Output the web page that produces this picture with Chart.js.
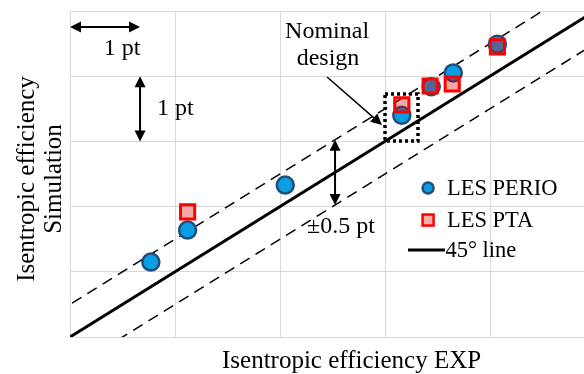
<!DOCTYPE html>
<html>
<head>
<meta charset="utf-8">
<script src="https://cdn.jsdelivr.net/npm/chart.js@4"></script>
<style>
  body { margin: 0; background: #fff; }
  #wrap { width: 584px; height: 374px; }
</style>
</head>
<body>
<div id="wrap"><canvas id="chart" width="584" height="374"></canvas></div>
<script>
// ---------------- DATA ----------------
const perioX = [0.77, 1.12, 2.05, 3.16, 3.44, 3.65, 4.07];
const perioY = [1.15, 1.64, 2.33, 3.40, 3.84, 4.05, 4.49];

const ptaX = [1.12, 3.16, 3.43, 3.64, 4.07];
const ptaY = [1.92, 3.56, 3.85, 3.88, 4.45];

// 45 degree line and the +-0.5 pt band
const lineX = [-1, 6];
const bandOffset = 0.5;

const xMax = 4.895;
const yMax = 5;

const FONT = '"Liberation Serif", "Times New Roman", serif';

function pts(xs, ys) {
    return xs.map((x, i) => ({ x, y: ys[i] }));
}

// ---------------- ANNOTATIONS ----------------
function arrowHead(ctx, x1, y1, x2, y2, len, half) {
    const a = Math.atan2(y2 - y1, x2 - x1);
    ctx.beginPath();
    ctx.moveTo(x2, y2);
    ctx.lineTo(x2 - len * Math.cos(a) + half * Math.sin(a), y2 - len * Math.sin(a) - half * Math.cos(a));
    ctx.lineTo(x2 - len * Math.cos(a) - half * Math.sin(a), y2 - len * Math.sin(a) + half * Math.cos(a));
    ctx.closePath();
    ctx.fill();
}

function arrow(ctx, x1, y1, x2, y2, both, lw) {
    const a = Math.atan2(y2 - y1, x2 - x1);
    const len = 11;
    ctx.lineWidth = lw;
    ctx.beginPath();
    ctx.moveTo(both ? x1 + len * 0.8 * Math.cos(a) : x1, both ? y1 + len * 0.8 * Math.sin(a) : y1);
    ctx.lineTo(x2 - len * 0.8 * Math.cos(a), y2 - len * 0.8 * Math.sin(a));
    ctx.stroke();
    arrowHead(ctx, x1, y1, x2, y2, len, 5.5);
    if (both) arrowHead(ctx, x2, y2, x1, y1, len, 5.5);
}

const annotations = {
    id: "annotations",
    afterDatasetsDraw(chart) {
        const ctx = chart.ctx;
        const sx = chart.scales.x, sy = chart.scales.y;
        const px = v => sx.getPixelForValue(v);
        const py = v => sy.getPixelForValue(v);

        ctx.save();
        ctx.fillStyle = "#000";
        ctx.strokeStyle = "#000";

        // 1 pt arrows
        arrow(ctx, px(0), py(4.755), px(0.667), py(4.755), true, 2);
        arrow(ctx, px(0.667), py(4.0), px(0.667), py(3.0), true, 2);
        // +-0.5 pt arrow
        arrow(ctx, px(2.524), py(3.024), px(2.524), py(2.024), true, 2);
        // nominal design pointer
        arrow(ctx, px(2.448), py(3.988), px(2.971), py(3.252), false, 1.5);

        // dotted box round the nominal point
        ctx.setLineDash([3, 3]);
        ctx.lineWidth = 3.5;
        ctx.strokeRect(px(3.0), py(3.727), px(3.314) - px(3.0), py(3.006) - py(3.727));
        ctx.setLineDash([]);

        // texts
        ctx.font = "24px " + FONT;
        ctx.textBaseline = "alphabetic";
        ctx.textAlign = "center";
        ctx.fillText("1 pt", px(0.495), py(4.325));
        ctx.fillText("Nominal", px(2.448), py(4.586));
        ctx.fillText("design", px(2.457), py(4.172));
        ctx.fillText("\u00b10.5 pt", px(2.581), py(1.595));
        ctx.textAlign = "left";
        ctx.fillText("1 pt", px(0.829), py(3.405));

        // legend
        ctx.font = "22.5px " + FONT;
        ctx.textBaseline = "middle";
        ctx.beginPath();
        ctx.arc(px(3.41), py(2.285), 5.5, 0, Math.PI * 2);
        ctx.fillStyle = "#0b9de3";
        ctx.fill();
        ctx.lineWidth = 2.5;
        ctx.strokeStyle = "#1f4e79";
        ctx.stroke();

        ctx.fillStyle = "rgba(240,0,0,0.32)";
        ctx.fillRect(px(3.41) - 5.5, py(1.794) - 5.5, 11, 11);
        ctx.lineWidth = 2.5;
        ctx.strokeStyle = "#ff0000";
        ctx.strokeRect(px(3.41) - 5.5, py(1.794) - 5.5, 11, 11);

        ctx.strokeStyle = "#000";
        ctx.lineWidth = 3;
        ctx.beginPath();
        ctx.moveTo(px(3.219), py(1.334));
        ctx.lineTo(px(3.571), py(1.334));
        ctx.stroke();

        ctx.fillStyle = "#000";
        ctx.fillText("LES PERIO", px(3.59), py(2.285) + 1);
        ctx.fillText("LES PTA", px(3.59), py(1.794) + 1);
        ctx.fillText("45\u00b0 line", px(3.575), py(1.334) + 1);

        // axis titles
        ctx.font = "25px " + FONT;
        ctx.textBaseline = "alphabetic";
        ctx.textAlign = "left";
        ctx.fillText("Isentropic efficiency EXP", 222, 368);

        ctx.translate(0, 179);
        ctx.rotate(-Math.PI / 2);
        ctx.textAlign = "center";
        ctx.fillText("Isentropic efficiency", 0, 34);
        ctx.fillText("Simulation", 0, 61);
        ctx.restore();
    }
};

// ---------------- CHART ----------------
new Chart(document.getElementById("chart"), {
    type: "scatter",
    data: {
        datasets: [
            {
                label: "LES PTA",
                data: pts(ptaX, ptaY),
                pointStyle: "rect",
                pointRadius: 10,
                borderWidth: 3,
                borderColor: "#ff0000",
                backgroundColor: "rgba(220,0,0,0.34)",
                order: 0
            },
            {
                label: "LES PERIO",
                data: pts(perioX, perioY),
                pointStyle: "circle",
                pointRadius: 8.5,
                borderWidth: 2.5,
                borderColor: "#1f4e79",
                backgroundColor: "#0b9de3",
                order: 1
            },
            {
                label: "45° line",
                data: pts(lineX, lineX),
                showLine: true,
                pointRadius: 0,
                borderColor: "#000",
                borderWidth: 3,
                order: 2
            },
            {
                label: "upper",
                data: pts(lineX, lineX.map(v => v + bandOffset)),
                showLine: true,
                pointRadius: 0,
                borderColor: "#000",
                borderWidth: 1.5,
                borderDash: [11, 7],
                order: 3
            },
            {
                label: "lower",
                data: pts(lineX, lineX.map(v => v - bandOffset)),
                showLine: true,
                pointRadius: 0,
                borderColor: "#000",
                borderWidth: 1.5,
                borderDash: [11, 7],
                order: 3
            }
        ]
    },
    options: {
        responsive: false,
        animation: false,
        devicePixelRatio: 1,
        layout: { autoPadding: false, padding: { left: 70, top: 11, right: 0, bottom: 37 } },
        plugins: {
            legend: { display: false },
            tooltip: { enabled: false }
        },
        scales: {
            x: {
                type: "linear",
                min: 0,
                max: xMax,
                ticks: { display: false, stepSize: 1 },
                grid: { color: "#d9d9d9", lineWidth: 1, drawTicks: false },
                border: { color: "#d9d9d9" }
            },
            y: {
                type: "linear",
                min: 0,
                max: yMax,
                ticks: { display: false, stepSize: 1 },
                grid: { color: "#d9d9d9", lineWidth: 1, drawTicks: false },
                border: { color: "#d9d9d9" }
            }
        }
    },
    plugins: [annotations]
});
</script>
</body>
</html>
